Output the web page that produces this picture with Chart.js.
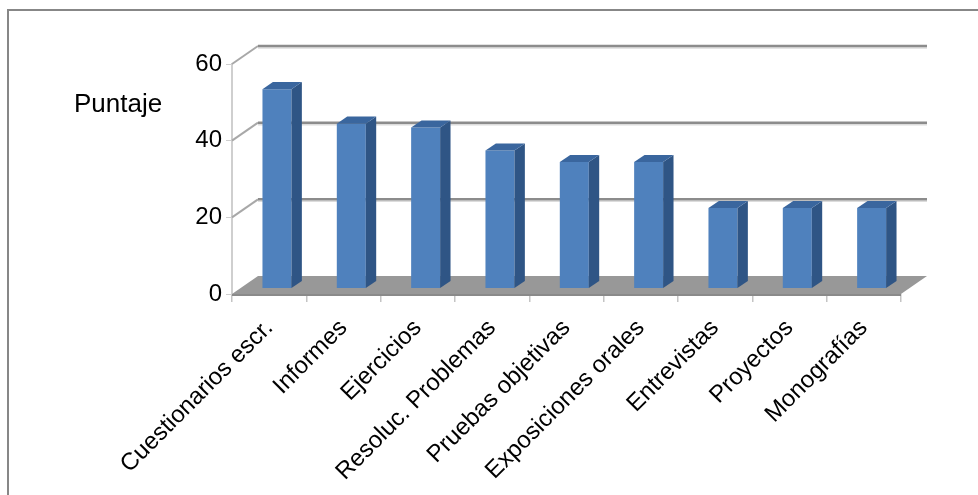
<!DOCTYPE html>
<html>
<head>
<meta charset="utf-8">
<title>Puntaje por instrumento de evaluación</title>
<script src="https://cdn.jsdelivr.net/npm/chart.js@4.4.1/dist/chart.umd.min.js"></script>
<style>
  html, body { margin: 0; padding: 0; background: #fff; }
  #wrap { width: 978px; height: 495px; }
</style>
</head>
<body>
<div id="wrap"><canvas id="puntajeChart" width="978" height="495"></canvas></div>
<script>
const categorias = ['Cuestionarios escr.', 'Informes', 'Ejercicios', 'Resoluc. Problemas',
  'Pruebas objetivas', 'Exposiciones orales', 'Entrevistas', 'Proyectos', 'Monografías'];
const puntajes = [52, 43, 42, 36, 33, 33, 21, 21, 21];
const ticksY = [0, 20, 40, 60];
const tituloY = 'Puntaje';

// depth of the 3D box (offset of the back wall) and the slice the bars occupy
const PROF = { dx: 26, dy: -18 };
const BAR_Z0 = 0.3, BAR_Z1 = 0.7;
const FUENTE = '"Liberation Sans", Arial, sans-serif';

const caja3d = {
  id: 'caja3d',
  beforeDraw(chart) {
    const ctx = chart.ctx;
    ctx.save();
    ctx.strokeStyle = '#878787';
    ctx.lineWidth = 2;
    ctx.strokeRect(8, 10, 1200, 1200);
    ctx.restore();
  },
  beforeDatasetsDraw(chart) {
    const { ctx, chartArea: a, scales: { y } } = chart;
    const { dx, dy } = PROF;
    const y0 = y.getPixelForValue(0);
    ctx.save();

    // floor
    ctx.fillStyle = '#989898';
    ctx.beginPath();
    ctx.moveTo(a.left, y0);
    ctx.lineTo(a.right, y0);
    ctx.lineTo(a.right + dx, y0 + dy);
    ctx.lineTo(a.left + dx, y0 + dy);
    ctx.closePath();
    ctx.fill();
    ctx.strokeStyle = '#8a8a8a';
    ctx.lineWidth = 2;
    ctx.beginPath();
    ctx.moveTo(a.left, y0 + 1);
    ctx.lineTo(a.right, y0 + 1);
    ctx.stroke();

    // gridlines on the side wall and the back wall
    ticksY.forEach(v => {
      if (v === 0) return;
      const py = y.getPixelForValue(v);
      ctx.strokeStyle = '#a8a8a8';
      ctx.lineWidth = 2;
      ctx.beginPath();
      ctx.moveTo(a.left, py);
      ctx.lineTo(a.left + dx, py + dy);
      ctx.stroke();
      ctx.strokeStyle = '#dcdcdc';
      ctx.lineWidth = 1.5;
      ctx.beginPath();
      ctx.moveTo(a.left + dx, py + dy + 2);
      ctx.lineTo(a.right + dx, py + dy + 2);
      ctx.stroke();
      ctx.strokeStyle = '#8c8c8c';
      ctx.lineWidth = 2.5;
      ctx.beginPath();
      ctx.moveTo(a.left + dx, py + dy);
      ctx.lineTo(a.right + dx, py + dy);
      ctx.stroke();
    });
    ctx.restore();

    // push the bars back into the box
    ctx.save();
    ctx.translate(dx * BAR_Z0, dy * BAR_Z0);
  },
  afterDatasetsDraw(chart) {
    const { ctx, scales: { y } } = chart;
    const ddx = PROF.dx * (BAR_Z1 - BAR_Z0);
    const ddy = PROF.dy * (BAR_Z1 - BAR_Z0);
    chart.getDatasetMeta(0).data.forEach(bar => {
      const { x, y: top, base, width } = bar.getProps(['x', 'y', 'base', 'width'], true);
      const l = x - width / 2, r = x + width / 2;
      // right side
      ctx.fillStyle = '#2F5585';
      ctx.beginPath();
      ctx.moveTo(r, top);
      ctx.lineTo(r + ddx, top + ddy);
      ctx.lineTo(r + ddx, base + ddy);
      ctx.lineTo(r, base);
      ctx.closePath();
      ctx.fill();
      // top face
      ctx.fillStyle = '#3A669E';
      ctx.beginPath();
      ctx.moveTo(l, top);
      ctx.lineTo(r, top);
      ctx.lineTo(r + ddx, top + ddy);
      ctx.lineTo(l + ddx, top + ddy);
      ctx.closePath();
      ctx.fill();
    });
    ctx.restore();

    // value axis title, horizontal beside the ticks
    ctx.save();
    ctx.fillStyle = '#000';
    ctx.font = '26px ' + FUENTE;
    ctx.textAlign = 'left';
    ctx.textBaseline = 'middle';
    ctx.fillText(tituloY, 74, y.getPixelForValue(49.3));
    ctx.restore();
  }
};

const ctx = document.getElementById('puntajeChart').getContext('2d');
const puntajeChart = new Chart(ctx, {
  type: 'bar',
  data: {
    labels: categorias,
    datasets: [{
      label: tituloY,
      data: puntajes,
      backgroundColor: '#4F81BD',
      borderWidth: 0,
      barPercentage: 0.39,
      categoryPercentage: 1
    }]
  },
  options: {
    responsive: false,
    animation: false,
    devicePixelRatio: 1,
    layout: { padding: { top: 64, right: 77, left: 0, bottom: 0 } },
    plugins: { legend: { display: false }, tooltip: { enabled: false } },
    scales: {
      x: {
        afterFit: s => { s.height = 201; },
        border: { display: false },
        grid: { offset: true, drawOnChartArea: false, tickLength: 8, color: '#c4c4c4', lineWidth: 1.5 },
        ticks: {
          autoSkip: false, minRotation: 45, maxRotation: 45, padding: 12,
          color: '#000', font: { family: FUENTE, size: 24 }
        }
      },
      y: {
        min: 0, max: 60,
        afterFit: s => { s.width = 232; },
        afterBuildTicks: s => { s.ticks = ticksY.map(v => ({ value: v })); },
        border: { color: '#cfcfcf', width: 2 },
        grid: { drawOnChartArea: false, tickLength: 6, color: '#cfcfcf' },
        ticks: { padding: 4, color: '#000', font: { family: FUENTE, size: 24 } }
      }
    }
  },
  plugins: [caja3d]
});
</script>
</body>
</html>
